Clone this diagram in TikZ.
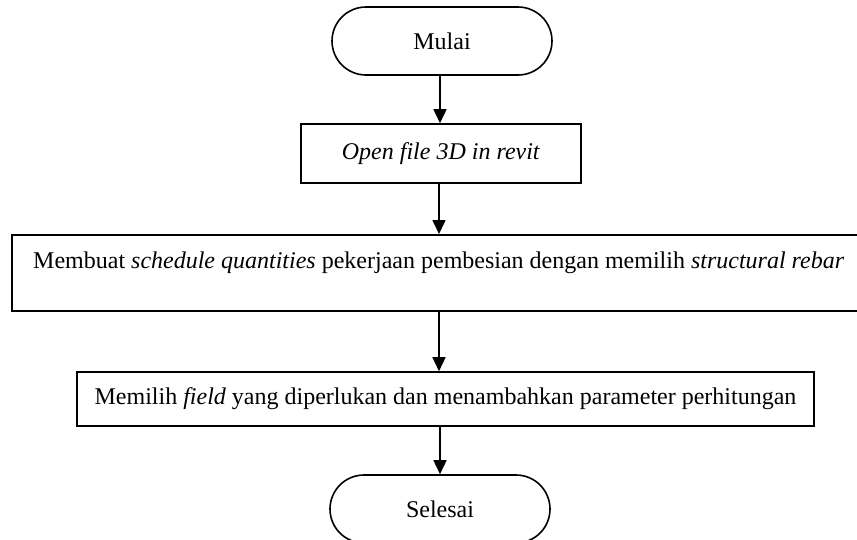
\documentclass[tikz,border=0pt]{standalone}
\usepackage{fontspec}
\setmainfont{Liberation Serif}
\usetikzlibrary{arrows.meta}
\begin{document}
\begin{tikzpicture}[x=1pt,y=-1pt,
  every node/.style={font=\fontsize{24}{28}\selectfont},
  terminal/.style={draw, line width=1.6pt, rounded corners=34pt,
    minimum width=220pt, minimum height=68pt, inner sep=0pt},
  process/.style={draw, line width=1.6pt, inner sep=0pt},
  flow/.style={line width=1.6pt, -{Triangle[length=14pt,width=13pt]}}]
\clip (0,0) rectangle (857,539);
\fill[white] (0,0) rectangle (857,539);

% start terminal
\node[terminal] (start) at (442,41) {Mulai};
% open the model
\node[process, minimum width=280pt, minimum height=59pt] (open) at (441,153.5)
  {\textit{Open file 3D in revit}};
% wide schedule box, running past the right edge
\node[process, anchor=north west, minimum width=870pt, minimum height=76pt]
  (sched) at (11,234) {};
\node[anchor=west, inner sep=0pt] (schedtext) at (33,263)
  {Membuat \textit{schedule quantities} pekerjaan pembesian dengan memilih \textit{structural rebar}};
% field selection
\node[process, minimum width=737pt, minimum height=54pt] (field) at (445.5,399)
  {Memilih \textit{field} yang diperlukan dan menambahkan parameter perhitungan};
% end terminal
\node[terminal] (stop) at (440,509) {Selesai};

\draw[flow] (start.south -| open.north) ++(-1,0) -- (open.north -| 440,0);
\coordinate (a1) at (439,183);
\draw[flow] (open.south -| a1) -- (sched.north -| a1);
\draw[flow] (sched.south -| a1) -- (field.north -| a1);
\coordinate (a2) at (440,426);
\draw[flow] (field.south -| a2) -- (stop.north -| a2);
\end{tikzpicture}
\end{document}
